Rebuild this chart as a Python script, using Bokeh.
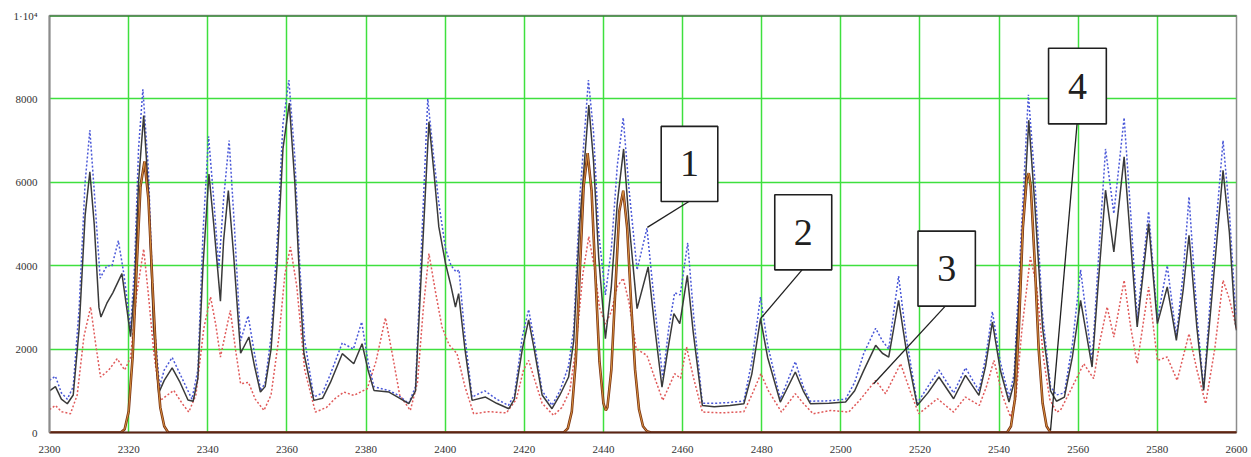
from bokeh.plotting import figure
from bokeh.models import Range1d, FixedTicker, Span, ColumnDataSource
from bokeh.core.properties import value
from bokeh.embed import file_html
from bokeh.resources import INLINE

# ---------------- data ----------------
x_ticks = [2300, 2320, 2340, 2360, 2380, 2400, 2420, 2440, 2460, 2480, 2500, 2520, 2540, 2560, 2580, 2600]
y_ticks = [0, 2000, 4000, 6000, 8000, 10000]
y_tick_labels = {10000: "1·10⁴"}

x_black = [2300, 2301.5, 2303, 2304.5, 2306, 2307.5, 2309, 2310.2, 2311.3, 2312.5, 2313, 2314.5, 2316, 2318.3, 2319.5,
           2320.5, 2321.5, 2322.5, 2323.8, 2325, 2326.3, 2327.6, 2329, 2331, 2333, 2335, 2336.3, 2337.5, 2338.8, 2340.3,
           2341.5, 2343.2, 2344, 2345.2, 2346.5, 2348.3, 2350.4, 2351.8, 2353.3, 2354.5, 2356, 2357.5, 2359, 2360.6, 2362,
           2363.3, 2364.3, 2366.8, 2369, 2371, 2374, 2376.9, 2379, 2380.5, 2382, 2385.8, 2388, 2390.8, 2392.5, 2393.8,
           2395.9, 2397.2, 2398.4, 2400.1, 2401.5, 2402.6, 2403.4, 2405, 2406.8, 2410.2, 2413, 2416.1, 2417.5, 2419.5,
           2421.1, 2422.5, 2424.5, 2427, 2429, 2431.2, 2432.5, 2434, 2436.3, 2437.5, 2438.8, 2440.5, 2442, 2443.5, 2445.1,
           2446.5, 2448.5, 2451.3, 2453, 2454.8, 2456.3, 2457.8, 2459.3, 2461.2, 2462.7, 2465, 2468, 2472, 2475.5, 2477.5,
           2479.7, 2481.5, 2484.7, 2488.5, 2490.5, 2492.3, 2497, 2501.2, 2503.5, 2505.8, 2508.8, 2510.5, 2512.1, 2514.6,
           2516.5, 2519.3, 2522, 2524.8, 2528.5, 2531.5, 2534.9, 2536.6, 2538.3, 2540.3, 2542.5, 2543.8, 2545.5, 2547.5,
           2549, 2551, 2553, 2554.5, 2556.5, 2558.5, 2560.6, 2563.5, 2565, 2566.9, 2569, 2571.6, 2573.3, 2574.9, 2577.8,
           2580, 2582.5, 2584.8, 2586.5, 2588, 2590, 2591.7, 2594, 2596.6, 2598.2, 2599.7, 2600]
y_black = [1000, 1100, 800, 690, 900, 2500, 5200, 6250, 5000, 3000, 2770, 3100, 3350, 3810, 3000,
           2300, 3500, 6000, 7600, 5800, 2500, 950, 1250, 1550, 1200, 780, 750, 1300, 4000, 6200,
           5000, 3150, 4600, 5800, 4300, 1900, 2290, 1600, 970, 1100, 2000, 4000, 6800, 7900, 6000,
           3500, 1900, 770, 820, 1200, 1890, 1650, 2130, 1500, 1010, 970, 850, 690, 1000, 3500,
           7450, 6200, 4930, 4050, 3500, 3010, 3330, 2000, 770, 850, 700, 570, 800, 2000,
           2700, 2000, 900, 570, 900, 1330, 2200, 5000, 7850, 6500, 4200, 2250, 3500, 5500, 6800,
           5000, 2970, 3970, 2500, 1090, 2000, 2850, 2610, 3770, 2400, 650, 620, 650, 690, 1400,
           2730, 1800, 730, 1450, 1000, 690, 700, 730, 1000, 1490, 2090, 1900, 1810, 3170,
           2000, 650, 950, 1330, 810, 1370, 890, 1600, 2650, 1500, 730, 1200, 4000, 7490,
           5500, 2500, 1000, 750, 850, 1800, 3170, 1570, 3500, 5810, 4330, 6610, 4500, 2530, 5010,
           2610, 3490, 2210, 3400, 4730, 2500, 1010, 3500, 6290, 4800, 2610, 2450]

x_blue = [2300, 2301.5, 2303, 2304.5, 2306, 2307.5, 2309, 2310.2, 2311.3, 2312.8, 2314.5, 2315.8, 2317.4, 2318.8, 2320.5,
          2321.5, 2322.5, 2323.6, 2325, 2326.3, 2327.8, 2329, 2331, 2333, 2336, 2337.5, 2338.8, 2340.2, 2341.5, 2342.8,
          2344, 2345.4, 2346.7, 2348.3, 2350.2, 2351.8, 2353.4, 2354.5, 2356, 2357.5, 2359, 2360.5, 2362, 2363.3, 2364.5,
          2366.8, 2369, 2371, 2374, 2376.8, 2378.9, 2380.5, 2382, 2386, 2388, 2390.8, 2392.5, 2393.8, 2395.6, 2397,
          2398.4, 2400.1, 2401.5, 2402.8, 2403.5, 2405, 2406.8, 2410, 2413, 2416, 2417.5, 2419.5, 2421.1, 2422.5, 2424.5,
          2427, 2429, 2431.2, 2432.5, 2434, 2436.2, 2437.5, 2438.8, 2440.5, 2442, 2443.5, 2445, 2446.5, 2448.5, 2451,
          2453, 2455, 2456.5, 2458, 2459.4, 2461.3, 2462.8, 2465, 2468, 2472, 2475.5, 2477.5, 2479.7, 2481.5, 2484.7,
          2488.5, 2490.5, 2492.3, 2497, 2501.2, 2503.5, 2505.8, 2508.8, 2510.5, 2512.1, 2514.6, 2516.5, 2519.3, 2522,
          2524.8, 2528.5, 2531.5, 2534.9, 2536.6, 2538.3, 2540.3, 2542.5, 2543.8, 2545.5, 2547.4, 2549, 2551, 2553,
          2554.5, 2556.5, 2558.5, 2560.6, 2563.5, 2565, 2566.9, 2569, 2571.6, 2573.3, 2574.9, 2577.8, 2580, 2582.5,
          2584.8, 2586.5, 2588, 2590, 2591.7, 2594, 2596.6, 2598.2, 2599.7, 2600]
y_blue = [1250, 1350, 950, 800, 1100, 3000, 6000, 7250, 5800, 3700, 4000, 4000, 4600, 3800, 2500,
          4000, 6800, 8230, 6300, 2800, 1100, 1500, 1800, 1400, 800, 1500, 4800, 7100, 5600, 3950,
          5600, 7000, 5000, 2200, 2800, 1900, 1000, 1200, 2300, 4500, 7400, 8450, 6600, 3900, 2200,
          850, 950, 1400, 2150, 2000, 2650, 1700, 1100, 1000, 900, 700, 1100, 4000, 8000, 6700,
          5500, 4400, 4000, 3850, 3900, 2300, 850, 1000, 800, 650, 900, 2300, 2950, 2200, 1000,
          650, 1000, 1600, 2500, 5600, 8450, 7200, 4800, 3300, 4400, 6400, 7550, 5800, 3900, 4900,
          3000, 1300, 2500, 3350, 3300, 4550, 2800, 700, 700, 720, 760, 1700, 3250, 2100, 800,
          1700, 1100, 750, 760, 800, 1200, 1900, 2500, 2200, 2000, 3750, 2300, 700, 1100,
          1500, 950, 1550, 1000, 1800, 2900, 1700, 850, 1400, 4600, 8100, 6100, 2800, 1100,
          900, 950, 2100, 3900, 1700, 4000, 6800, 5250, 7550, 5200, 2700, 5300, 2700, 4000,
          2300, 3800, 5650, 2800, 1050, 4000, 7000, 5300, 3000, 2800]

x_red = [2300, 2301.5, 2303, 2305.3, 2307, 2308.7, 2310.4, 2311.7, 2312.9, 2315, 2317.1, 2319, 2320.5, 2322, 2323.8,
         2325, 2326.4, 2328, 2331.4, 2333.5, 2335.2, 2337, 2339, 2340.7, 2342, 2343.2, 2345.7, 2347, 2348.3, 2350.3,
         2352, 2354.2, 2356, 2358, 2359.5, 2360.9, 2362.5, 2364.5, 2367.2, 2370, 2372, 2374.4, 2376.9, 2380.3, 2382.5,
         2384.9, 2386.8, 2388.5, 2391.2, 2393, 2394.5, 2395.9, 2397.5, 2399.2, 2401, 2403, 2405, 2407.2, 2411, 2415.5,
         2418, 2419.8, 2421.1, 2422.5, 2424.5, 2427.4, 2429.5, 2431.5, 2433, 2434.8, 2436.3, 2437.8, 2439, 2440.5, 2442,
         2443.5, 2445, 2446.5, 2448.3, 2451, 2453, 2455, 2458, 2459.5, 2461, 2462.8, 2465, 2470, 2475.5, 2477.5,
         2479.8, 2481.7, 2485, 2488.5, 2490.5, 2493, 2497.4, 2502, 2505, 2508.8, 2511.3, 2515.1, 2517.5, 2519.7, 2524.4,
         2528.5, 2531.5, 2535, 2536.8, 2538.7, 2540.8, 2542.9, 2544.2, 2545.8, 2547.9, 2549.5, 2551.2, 2552.8, 2554.5,
         2555.5, 2558, 2561.4, 2563.9, 2565.5, 2567.3, 2569, 2571.6, 2573.3, 2574.9, 2577.8, 2580, 2582.5, 2585, 2588,
         2590, 2592.2, 2594.5, 2596.6, 2598.2, 2599.7, 2600]
y_red = [550, 650, 500, 450, 900, 2300, 3010, 2100, 1330, 1500, 1770, 1500, 1800, 3300, 4400,
         3300, 1890, 770, 1010, 700, 490, 900, 2500, 3250, 2600, 1810, 2930, 2000, 1170, 1200,
         800, 530, 900, 2300, 3800, 4450, 3500, 1500, 490, 600, 800, 970, 890, 1050, 1700,
         2750, 1800, 900, 530, 1200, 3000, 4290, 3400, 2530, 2100, 1890, 1100, 450, 500, 470,
         800, 1500, 1730, 1300, 700, 410, 600, 1000, 2000, 3800, 4700, 3900, 3000, 2600, 2900,
         3500, 3700, 3100, 2000, 1850, 1300, 770, 1410, 1300, 2050, 1300, 490, 470, 500, 900,
         1410, 1000, 490, 930, 700, 450, 530, 490, 800, 1250, 930, 1650, 1000, 450, 810,
         490, 850, 650, 1100, 1730, 900, 370, 800, 2500, 4210, 3500, 1800, 800, 490,
         530, 1000, 1650, 1290, 2200, 3010, 2290, 3650, 2500, 1650, 3490, 1730, 1810, 1250, 2370,
         1500, 690, 2000, 3650, 3200, 2610, 2500]

x_brown = [2300, 2318, 2319, 2320, 2321, 2322, 2323, 2324, 2325, 2326, 2327, 2328, 2329, 2330,
           2430, 2431, 2432, 2433, 2434, 2435, 2436, 2437, 2438, 2439, 2440, 2440.6, 2441, 2442, 2443, 2444, 2445,
           2446, 2447, 2448, 2449, 2450, 2451, 2452,
           2542, 2543, 2544, 2545, 2546, 2547, 2547.5, 2548, 2549, 2550, 2551, 2552, 2553, 2600]
y_brown = [0, 0, 80, 500, 1800, 3900, 5900, 6500, 5600, 3600, 1700, 600, 150, 0,
           0, 100, 500, 1700, 3800, 5900, 6700, 5800, 3700, 1700, 700, 530, 600, 1500, 3400, 5300, 5800,
           4900, 3100, 1500, 550, 150, 30, 0,
           0, 150, 800, 2500, 4900, 6100, 6220, 5900, 4100, 2000, 700, 150, 0, 0]

# callout boxes: label, left, right, bottom, top, leader line (x0, y0) -> (x1, y1)
callout_labels = ["1", "2", "3", "4"]
callout_left = [2454.6, 2483.3, 2519.5, 2552.5]
callout_right = [2468.9, 2497.7, 2534.0, 2567.1]
callout_bottom = [5540, 3900, 3030, 7400]
callout_top = [7340, 5700, 4830, 9215]
leader_x0 = [2461.6, 2490.2, 2526.4, 2559.7]
leader_y0 = [5540, 3900, 3030, 7400]
leader_x1 = [2451.1, 2479.7, 2508.3, 2553.0]
leader_y1 = [4920, 2730, 1170, 50]

# ---------------- figure ----------------
p = figure(width=1251, height=457, output_backend="svg", toolbar_location=None,
           x_range=Range1d(2300, 2600), y_range=Range1d(0, 10000),
           min_border_left=49, min_border_right=15, min_border_top=15, min_border_bottom=25)
p.background_fill_color = "white"
p.border_fill_color = "white"
p.outline_line_color = "#8c8c8c"
p.outline_line_width = 1.5

p.xaxis.ticker = FixedTicker(ticks=x_ticks)
p.yaxis.ticker = FixedTicker(ticks=y_ticks)
p.yaxis.major_label_overrides = y_tick_labels
for ax in (p.xaxis[0], p.yaxis[0]):
    ax.major_tick_line_color = None
    ax.minor_tick_line_color = None
    ax.major_label_text_font = "Liberation Serif"
    ax.major_label_text_font_size = "11px"
    ax.major_label_text_color = "#333333"
p.yaxis.axis_line_color = "#8c8c8c"
p.yaxis.axis_line_width = 2
p.yaxis.major_label_standoff = 6
p.xaxis.axis_line_color = "#5a2414"
p.xaxis.axis_line_width = 2
p.xaxis.major_label_standoff = 7

p.xgrid.grid_line_color = "#3ee03e"
p.ygrid.grid_line_color = "#3ee03e"
p.xgrid.grid_line_width = 1.5
p.ygrid.grid_line_width = 1.5
p.xgrid.grid_line_alpha = 1
p.ygrid.grid_line_alpha = 1

p.add_layout(Span(location=10000, dimension="width", line_color="#2a8a2a", line_width=2.5))

# series
p.line(x_red, y_red, line_color="#e05a5a", line_width=1.5, line_dash="2 2")
p.line(x_blue, y_blue, line_color="#4a58d8", line_width=1.5, line_dash="2 2")
p.line(x_black, y_black, line_color="#3a3a3a", line_width=1.5)
p.line(x_brown, y_brown, line_color="#7a3414", line_width=2.6)
p.line(x_brown, y_brown, line_color="#d8903c", line_width=1.0)

# callouts
cs = ColumnDataSource(dict(label=callout_labels, left=callout_left, right=callout_right,
                           bottom=callout_bottom, top=callout_top,
                           cx=[(a + b) / 2 for a, b in zip(callout_left, callout_right)],
                           cy=[(a + b) / 2 for a, b in zip(callout_bottom, callout_top)],
                           x0=leader_x0, y0=leader_y0, x1=leader_x1, y1=leader_y1))
p.segment(x0="x0", y0="y0", x1="x1", y1="y1", source=cs, line_color="#202020", line_width=1.3)
p.quad(left="left", right="right", bottom="bottom", top="top", source=cs,
       fill_color="white", line_color="#202020", line_width=1.6)
p.text(x="cx", y="cy", text="label", source=cs, text_font=value("Liberation Serif"),
       text_font_size="38px", text_align="center", text_baseline="middle", text_color="#202020")

open("out.html", "w").write(file_html(p, INLINE))
